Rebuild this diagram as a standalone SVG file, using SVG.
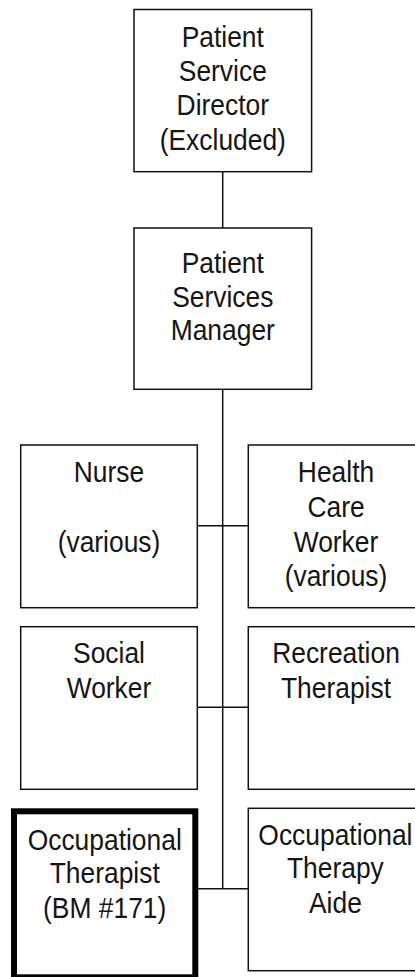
<svg xmlns="http://www.w3.org/2000/svg" width="415" height="977" viewBox="0 0 415 977">
<style>
.box{fill:#fff;stroke:#111;stroke-width:1.5}
.thick{fill:#fff;stroke:#000;stroke-width:6}
.lbl{font-family:"Liberation Sans",Arial,sans-serif;font-size:26.4px;fill:#151515;text-anchor:middle}
.con{stroke:#111;stroke-width:1.5;fill:none}
</style>
<rect width="415" height="977" fill="#fff"/>
<g id="connectors">
<line class="con" x1="222.7" y1="171.7" x2="222.7" y2="228"/>
<line class="con" x1="222.7" y1="389.3" x2="222.7" y2="888.7"/>
<line class="con" x1="197.3" y1="525.7" x2="248.3" y2="525.7"/>
<line class="con" x1="197.3" y1="707.3" x2="248.3" y2="707.3"/>
<line class="con" x1="195.3" y1="888.7" x2="248.3" y2="888.7"/>
</g>
<g id="director">
<rect class="box" x="134" y="9.5" width="177.6" height="162.2"/>
<text class="lbl" transform="translate(222.8 46.7) scale(1 1.1)">Patient</text>
<text class="lbl" transform="translate(222.8 81) scale(1 1.1)">Service</text>
<text class="lbl" transform="translate(222.8 115.3) scale(1 1.1)">Director</text>
<text class="lbl" transform="translate(222.8 149.7) scale(1 1.1)">(Excluded)</text>
</g>
<g id="manager">
<rect class="box" x="134" y="228" width="177.6" height="161.3"/>
<text class="lbl" transform="translate(222.8 273.3) scale(1 1.1)">Patient</text>
<text class="lbl" transform="translate(222.8 306.7) scale(1 1.1)">Services</text>
<text class="lbl" transform="translate(222.8 340) scale(1 1.1)">Manager</text>
</g>
<g id="nurse">
<rect class="box" x="20.7" y="445" width="176.6" height="162.7"/>
<text class="lbl" transform="translate(109 481.7) scale(1 1.1)">Nurse</text>
<text class="lbl" transform="translate(109 551.7) scale(1 1.1)">(various)</text>
</g>
<g id="hcw">
<rect class="box" x="248.3" y="445" width="177" height="162.7"/>
<text class="lbl" transform="translate(336 481.7) scale(1 1.1)">Health</text>
<text class="lbl" transform="translate(336 516.7) scale(1 1.1)">Care</text>
<text class="lbl" transform="translate(336 551.7) scale(1 1.1)">Worker</text>
<text class="lbl" transform="translate(336 585.5) scale(1 1.1)">(various)</text>
</g>
<g id="social">
<rect class="box" x="20.7" y="626.7" width="176.6" height="162.6"/>
<text class="lbl" transform="translate(109 663.3) scale(1 1.1)">Social</text>
<text class="lbl" transform="translate(109 698.3) scale(1 1.1)">Worker</text>
</g>
<g id="recreation">
<rect class="box" x="248.3" y="626.7" width="177" height="162.6"/>
<text class="lbl" transform="translate(336 663.3) scale(1 1.1)">Recreation</text>
<text class="lbl" transform="translate(336 698.3) scale(1 1.1)">Therapist</text>
</g>
<g id="ot">
<rect class="thick" x="14" y="811.3" width="181.3" height="166"/>
<text class="lbl" transform="translate(104.7 850) scale(1 1.1)">Occupational</text>
<text class="lbl" transform="translate(104.7 883.3) scale(1 1.1)">Therapist</text>
<text class="lbl" transform="translate(104.7 918.3) scale(1 1.1)">(BM #171)</text>
</g>
<g id="ota">
<rect class="box" x="248.3" y="808.3" width="177" height="162.4"/>
<text class="lbl" transform="translate(335.4 845) scale(1 1.1)">Occupational</text>
<text class="lbl" transform="translate(335.4 878.3) scale(1 1.1)">Therapy</text>
<text class="lbl" transform="translate(335.4 913.3) scale(1 1.1)">Aide</text>
</g>
</svg>
